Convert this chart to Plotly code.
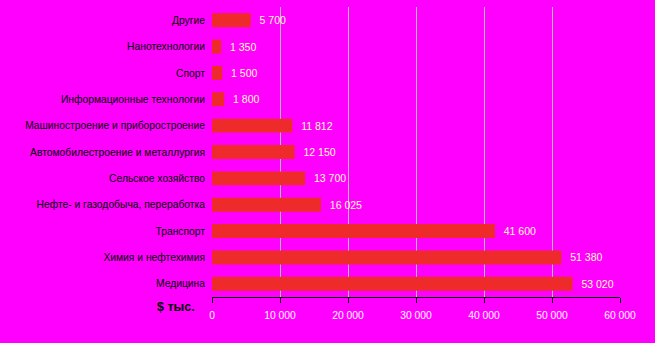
import plotly.graph_objects as go

categories = ["Медицина", "Химия и нефтехимия", "Транспорт",
              "Нефте- и газодобыча, переработка", "Сельское хозяйство",
              "Автомобилестроение и металлургия", "Машиностроение и приборостроение",
              "Информационные технологии", "Спорт", "Нанотехнологии", "Другие"]
values = [53020, 51380, 41600, 16025, 13700, 12150, 11812, 1800, 1500, 1350, 5700]
labels = ["53 020", "51 380", "41 600", "16 025", "13 700", "12 150", "11 812",
          "1 800", "1 500", "1 350", "5 700"]
tick_vals = [0, 10000, 20000, 30000, 40000, 50000, 60000]
tick_text = ["0", "10 000", "20 000", "30 000", "40 000", "50 000", "60 000"]

fig = go.Figure(go.Bar(
    x=values, y=categories, orientation="h",
    marker=dict(color="#ee2a2a", line=dict(width=0)),
    width=0.53,
    text=["\u00a0\u00a0" + t for t in labels], textposition="outside", cliponaxis=False,
    textfont=dict(color="#ffffcc", size=10.5, family="Arial"),
))

fig.update_layout(
    width=655, height=343,
    paper_bgcolor="#ff00ff", plot_bgcolor="#ff00ff",
    margin=dict(l=212, r=35, t=7, b=46),
    showlegend=False,
    font=dict(family="Arial", size=10, color="black"),
    xaxis=dict(range=[0, 60000], tickvals=tick_vals, ticktext=tick_text,
               showgrid=True, gridcolor="#bbbbbb", gridwidth=1,
               showline=True, linecolor="black", linewidth=1,
               ticks="outside", ticklen=5, tickcolor="black",
               ticklabelstandoff=4,
               tickfont=dict(color="white", size=10.3), zeroline=False),
    yaxis=dict(showgrid=False, ticks="", tickfont=dict(color="black", size=10.3),
               showline=False, ticklabelstandoff=6),
    bargap=0.47,
)
fig.add_annotation(text="<b>$ тыс.</b>", xref="paper", yref="paper",
                   x=-0.036, y=-0.034, xanchor="right", yanchor="middle",
                   showarrow=False, font=dict(size=12.5, color="black"))

fig.write_html("out.html")
